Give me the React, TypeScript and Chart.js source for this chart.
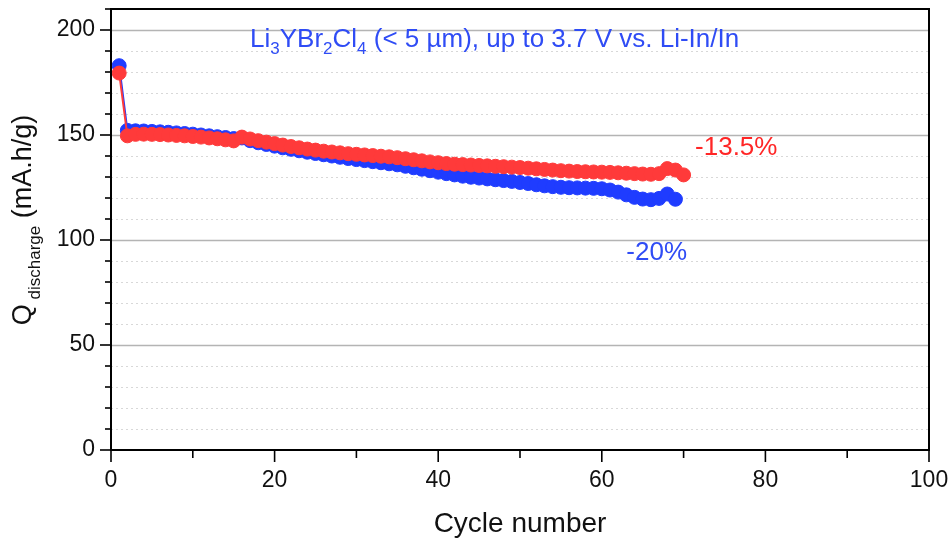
import React, { useEffect, useRef } from "react";
import { Chart, registerables } from "chart.js";

Chart.register(...registerables);

// ---- data ----
const cyclesBlue = [
  1, 2, 3, 4, 5, 6, 7, 8, 9, 10, 11, 12, 13, 14, 15, 16, 17, 18, 19, 20,
  21, 22, 23, 24, 25, 26, 27, 28, 29, 30, 31, 32, 33, 34, 35, 36, 37, 38, 39, 40,
  41, 42, 43, 44, 45, 46, 47, 48, 49, 50, 51, 52, 53, 54, 55, 56, 57, 58, 59, 60,
  61, 62, 63, 64, 65, 66, 67, 68, 69,
];
const qBlue = [
  183.0, 152.2, 152.0, 151.9, 151.7, 151.5, 151.3, 151.0, 150.7, 150.4,
  150.0, 149.6, 149.2, 148.8, 148.3, 148.6, 147.3, 146.3, 145.5, 144.7,
  143.9, 143.2, 142.5, 141.8, 141.2, 140.6, 140.0, 139.4, 138.8, 138.3,
  137.8, 137.3, 136.8, 136.3, 135.8, 135.1, 134.4, 133.7, 133.0, 132.3,
  131.6, 131.0, 130.4, 129.9, 129.5, 129.1, 128.7, 128.3, 127.9, 127.4,
  126.9, 126.3, 125.8, 125.4, 125.1, 124.9, 124.8, 124.7, 124.6, 124.4,
  123.8, 122.8, 121.5, 120.3, 119.5, 119.2, 119.8, 121.9, 119.4,
];
const cyclesRed = [
  1, 2, 3, 4, 5, 6, 7, 8, 9, 10, 11, 12, 13, 14, 15, 16, 17, 18, 19, 20,
  21, 22, 23, 24, 25, 26, 27, 28, 29, 30, 31, 32, 33, 34, 35, 36, 37, 38, 39, 40,
  41, 42, 43, 44, 45, 46, 47, 48, 49, 50, 51, 52, 53, 54, 55, 56, 57, 58, 59, 60,
  61, 62, 63, 64, 65, 66, 67, 68, 69, 70,
];
const qRed = [
  179.5, 149.6, 150.3, 150.4, 150.3, 150.2, 150.0, 149.8, 149.6, 149.3,
  149.0, 148.6, 148.2, 147.7, 147.2, 149.0, 148.1, 147.3, 146.6, 145.9,
  145.2, 144.5, 143.9, 143.3, 142.8, 142.3, 141.9, 141.5, 141.1, 140.8,
  140.5, 140.2, 139.9, 139.6, 139.2, 138.7, 138.2, 137.7, 137.2, 136.8,
  136.4, 136.1, 135.9, 135.7, 135.5, 135.3, 135.1, 134.9, 134.7, 134.5,
  134.2, 133.9, 133.6, 133.3, 133.0, 132.8, 132.6, 132.5, 132.4, 132.3,
  132.2, 132.0, 131.8, 131.6, 131.4, 131.3, 131.6, 134.0, 133.3, 131.0,
];
const labelRed = "-13.5%";
const labelBlue = "-20%";
const xTitle = "Cycle number";

const FONT = "'Liberation Sans', Arial, sans-serif";
const BLUE = "#1f3cff";
const RED = "#ff3a3a";
const TEXT_BLUE = "#2f4cf5";
const TEXT_RED = "#ff2626";

type Part = { t: string; sub?: boolean };

function drawRich(
  ctx: CanvasRenderingContext2D,
  parts: Part[],
  x: number,
  y: number,
  size: number,
  subSize: number,
  subOff: number,
  align: "left" | "center"
) {
  const widths = parts.map((p) => {
    ctx.font = `${p.sub ? subSize : size}px ${FONT}`;
    return ctx.measureText(p.t).width;
  });
  const total = widths.reduce((a, b) => a + b, 0);
  let cx = align === "center" ? x - total / 2 : x;
  ctx.textBaseline = "alphabetic";
  ctx.textAlign = "left";
  parts.forEach((p, i) => {
    ctx.font = `${p.sub ? subSize : size}px ${FONT}`;
    ctx.fillText(p.t, cx, y + (p.sub ? subOff : 0));
    cx += widths[i];
  });
}

const decor = {
  id: "decor",
  beforeDatasetsDraw(chart: any) {
    const { ctx, chartArea: a } = chart;
    const y = chart.scales.y;
    ctx.save();
    y.ticks.forEach((t: any) => {
      const v = t.value;
      if (v <= y.min || v >= y.max) return;
      const py = Math.round(y.getPixelForValue(v)) + 0.5;
      if (v % 50 === 0) {
        ctx.setLineDash([]);
        ctx.strokeStyle = "#b4b4b4";
        ctx.lineWidth = 1.5;
      } else {
        ctx.setLineDash([2, 3]);
        ctx.strokeStyle = "#d8d8d8";
        ctx.lineWidth = 1;
      }
      ctx.beginPath();
      ctx.moveTo(a.left, py);
      ctx.lineTo(a.right, py);
      ctx.stroke();
    });
    ctx.restore();
  },
  afterDatasetsDraw(chart: any) {
    const { ctx, chartArea: a } = chart;
    const x = chart.scales.x;
    const y = chart.scales.y;
    ctx.save();
    ctx.setLineDash([]);
    ctx.strokeStyle = "#000";
    ctx.lineWidth = 2;
    ctx.strokeRect(a.left, a.top, a.right - a.left, a.bottom - a.top);
    ctx.lineWidth = 1.6;
    y.ticks.forEach((t: any) => {
      const len = t.value % 50 === 0 ? 11 : 6;
      const py = y.getPixelForValue(t.value);
      ctx.beginPath();
      ctx.moveTo(a.left - len, py);
      ctx.lineTo(a.left, py);
      ctx.stroke();
    });
    x.ticks.forEach((t: any) => {
      const len = t.value % 20 === 0 ? 12 : 8;
      const px = x.getPixelForValue(t.value);
      ctx.beginPath();
      ctx.moveTo(px, a.bottom);
      ctx.lineTo(px, a.bottom + len);
      ctx.stroke();
    });

    // annotation title
    ctx.fillStyle = TEXT_BLUE;
    drawRich(
      ctx,
      [
        { t: "Li" },
        { t: "3", sub: true },
        { t: "YBr" },
        { t: "2", sub: true },
        { t: "Cl" },
        { t: "4", sub: true },
        { t: " (< 5 µm), up to 3.7 V vs. Li-In/In" },
      ],
      x.getPixelForValue(17),
      y.getPixelForValue(192),
      26,
      17,
      7,
      "left"
    );
    ctx.fillStyle = TEXT_RED;
    drawRich(ctx, [{ t: labelRed }], x.getPixelForValue(71.4), y.getPixelForValue(140.5), 26, 16, 0, "left");
    ctx.fillStyle = TEXT_BLUE;
    drawRich(ctx, [{ t: labelBlue }], x.getPixelForValue(63.0), y.getPixelForValue(90.5), 26, 16, 0, "left");

    // x title
    ctx.fillStyle = "#111";
    drawRich(ctx, [{ t: xTitle }], (a.left + a.right) / 2, 532, 28, 16, 0, "center");

    // y title (rotated, with subscript)
    ctx.save();
    ctx.translate(31, 220);
    ctx.rotate(-Math.PI / 2);
    drawRich(
      ctx,
      [{ t: "Q" }, { t: " discharge", sub: true }, { t: " (mA.h/g)" }],
      0,
      0,
      27,
      17,
      9,
      "center"
    );
    ctx.restore();
    ctx.restore();
  },
};

export default function App() {
  const ref = useRef<HTMLCanvasElement | null>(null);
  useEffect(() => {
    if (!ref.current) return;
    const chart = new Chart(ref.current, {
      type: "line",
      data: {
        datasets: [
          {
            label: "red",
            data: cyclesRed.map((c, i) => ({ x: c, y: qRed[i] })),
            borderColor: RED,
            backgroundColor: RED,
            pointBackgroundColor: RED,
            pointBorderColor: RED,
            pointRadius: 7,
            pointBorderWidth: 1,
            borderWidth: 2,
            tension: 0,
          },
          {
            label: "blue",
            data: cyclesBlue.map((c, i) => ({ x: c, y: qBlue[i] })),
            borderColor: BLUE,
            backgroundColor: BLUE,
            pointBackgroundColor: BLUE,
            pointBorderColor: BLUE,
            pointRadius: 7,
            pointBorderWidth: 1,
            borderWidth: 2,
            tension: 0,
          },
        ],
      },
      options: {
        animation: false,
        responsive: false,
        maintainAspectRatio: false,
        layout: { padding: { top: 9, right: 23, left: 0, bottom: 0 } },
        plugins: { legend: { display: false }, tooltip: { enabled: false } },
        scales: {
          x: {
            type: "linear",
            min: 0,
            max: 100,
            grid: { display: false, drawTicks: false },
            border: { display: false },
            ticks: {
              stepSize: 10,
              padding: 17,
              autoSkip: false,
              maxRotation: 0,
              color: "#111",
              font: { family: FONT, size: 23 },
              callback: (v: any) => (Number(v) % 20 === 0 ? String(v) : ""),
            },
            afterFit: (s: any) => {
              s.height = 92;
              s.paddingLeft = 0;
              s.paddingRight = 0;
            },
          },
          y: {
            type: "linear",
            min: 0,
            max: 210,
            grid: { display: false, drawTicks: false },
            border: { display: false },
            ticks: {
              stepSize: 10,
              padding: 16,
              autoSkip: false,
              color: "#111",
              font: { family: FONT, size: 23 },
              callback: (v: any) => (Number(v) % 50 === 0 ? String(v) : ""),
            },
            afterFit: (s: any) => {
              s.width = 111;
              s.paddingTop = 0;
              s.paddingBottom = 0;
            },
          },
        },
      },
      plugins: [decor],
    });
    return () => chart.destroy();
  }, []);
  return (
    <div style={{ position: "fixed", left: 0, top: 0, width: 952, height: 542, background: "#fff" }}>
      <canvas ref={ref} width={952} height={542} style={{ display: "block" }} />
    </div>
  );
}
